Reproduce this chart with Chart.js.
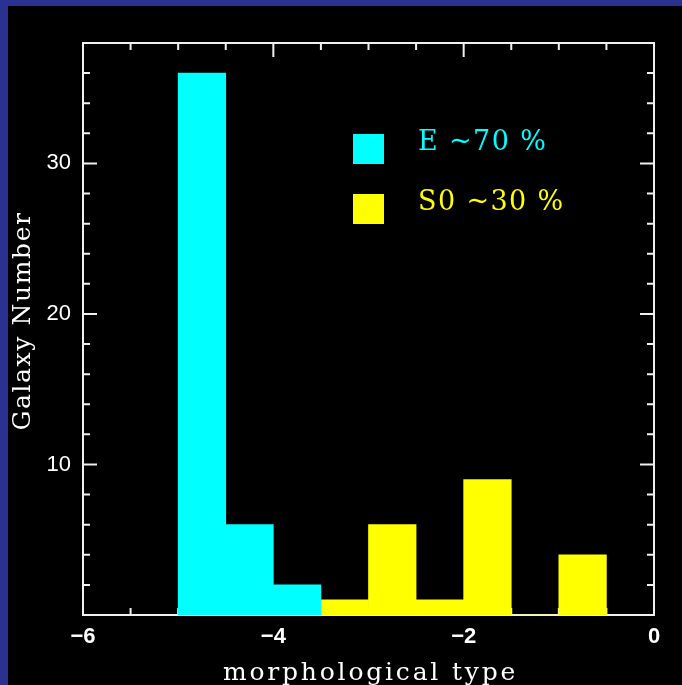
<!DOCTYPE html>
<html>
<head>
<meta charset="utf-8">
<script src="https://cdn.jsdelivr.net/npm/chart.js@4.4.0/dist/chart.umd.min.js"></script>
<style>
  html, body { margin: 0; padding: 0; width: 682px; height: 685px; overflow: hidden; background: #2b3191; }
  #wrap { position: absolute; left: 8px; top: 6px; width: 674px; height: 679px; background: #000; }
</style>
</head>
<body>
<div id="wrap"><canvas id="chart" width="674" height="679"></canvas></div>
<script>
// histogram bins (left edges) and counts
const binWidth = 0.5;
const eBins = [-5, -4.5, -4];
const eCounts = [36, 6, 2];
const s0Bins = [-3.5, -3, -2.5, -2, -1.5, -1];
const s0Counts = [1, 6, 1, 9, 0, 4];

const seriesNames = ['E ~70 %', 'S0 ~30 %'];
const seriesColors = ['#00ffff', '#ffff00'];

const xTicks = [-6, -4, -2, 0];
const yTicks = [10, 20, 30];
const xMinorStep = 0.5;
const yMinorStep = 2;
const xTitle = 'morphological type';
const yTitle = 'Galaxy Number';

function toPoints(bins, counts) {
    return bins.map((b, i) => ({ x: b + binWidth / 2, y: counts[i] }));
}

function fmt(v) {
    return v < 0 ? '\u2212' + Math.abs(v) : String(v);
}

// box around the plot with inward ticks on all four sides
const framePlugin = {
    id: 'frame',
    beforeDatasetsDraw(chart) {
        const { ctx, chartArea: a, scales: { x, y } } = chart;
        ctx.save();
        ctx.strokeStyle = '#f0f0f0';
        ctx.lineWidth = 2;
        ctx.strokeRect(a.left, a.top, a.right - a.left, a.bottom - a.top);
        ctx.beginPath();
        for (let v = x.min; v <= x.max + 1e-9; v += xMinorStep) {
            const px = x.getPixelForValue(v);
            const len = xTicks.includes(v) ? 14 : 7;
            ctx.moveTo(px, a.bottom); ctx.lineTo(px, a.bottom - len);
            ctx.moveTo(px, a.top); ctx.lineTo(px, a.top + len);
        }
        for (let v = y.min; v <= y.max + 1e-9; v += yMinorStep) {
            const py = y.getPixelForValue(v);
            const len = yTicks.includes(v) ? 14 : 7;
            ctx.moveTo(a.left, py); ctx.lineTo(a.left + len, py);
            ctx.moveTo(a.right, py); ctx.lineTo(a.right - len, py);
        }
        ctx.stroke();
        ctx.restore();
    }
};

// axis titles (wide lettering) and the legend inside the plot
const textPlugin = {
    id: 'texts',
    afterDraw(chart) {
        const { ctx, chartArea: a } = chart;
        ctx.save();
        ctx.fillStyle = '#ffffff';
        ctx.font = '25px "DejaVu Serif"';
        ctx.textAlign = 'center';
        ctx.textBaseline = 'alphabetic';

        ctx.letterSpacing = '2.8px';
        ctx.fillText(xTitle, (a.left + a.right) / 2 + 2, 674);

        ctx.letterSpacing = '1.6px';
        ctx.save();
        ctx.translate(22, (a.top + a.bottom) / 2 - 8);
        ctx.rotate(-Math.PI / 2);
        ctx.fillText(yTitle, 0, 0);
        ctx.restore();

        ctx.letterSpacing = '1.4px';
        ctx.textAlign = 'left';
        ctx.font = '27px "DejaVu Serif"';
        seriesNames.forEach((name, i) => {
            const top = 128 + i * 60;
            ctx.fillStyle = seriesColors[i];
            ctx.fillRect(345, top, 31, 30);
            ctx.fillText(name, 410, top + 16);
        });
        ctx.restore();
    }
};

new Chart(document.getElementById('chart').getContext('2d'), {
    type: 'bar',
    data: {
        datasets: [
            { label: seriesNames[0], data: toPoints(eBins, eCounts), backgroundColor: seriesColors[0] },
            { label: seriesNames[1], data: toPoints(s0Bins, s0Counts), backgroundColor: seriesColors[1] }
        ]
    },
    plugins: [framePlugin, textPlugin],
    options: {
        responsive: false,
        animation: false,
        grouped: false,
        barPercentage: 1,
        categoryPercentage: 1,
        borderWidth: 0,
        layout: { padding: { top: 37, right: 28, left: 0, bottom: 0 } },
        plugins: {
            legend: { display: false },
            tooltip: { enabled: false }
        },
        scales: {
            x: {
                type: 'linear',
                min: -6,
                max: 0,
                offset: false,
                grid: { display: false, drawTicks: false, offset: false },
                border: { display: false },
                afterBuildTicks: (scale) => { scale.ticks = xTicks.map(v => ({ value: v })); },
                afterFit: (scale) => { scale.height = 70; },
                ticks: {
                    padding: 9,
                    color: '#ffffff',
                    font: { family: '"Liberation Sans"', size: 22, weight: 'bold' },
                    callback: (v) => fmt(v)
                }
            },
            y: {
                min: 0,
                max: 38,
                grid: { display: false, drawTicks: false },
                border: { display: false },
                afterBuildTicks: (scale) => { scale.ticks = yTicks.map(v => ({ value: v })); },
                afterFit: (scale) => { scale.width = 75; },
                ticks: {
                    padding: 12,
                    color: '#ffffff',
                    font: { family: '"Liberation Sans"', size: 22 },
                    callback: (v) => String(v)
                }
            }
        }
    }
});
</script>
</body>
</html>
